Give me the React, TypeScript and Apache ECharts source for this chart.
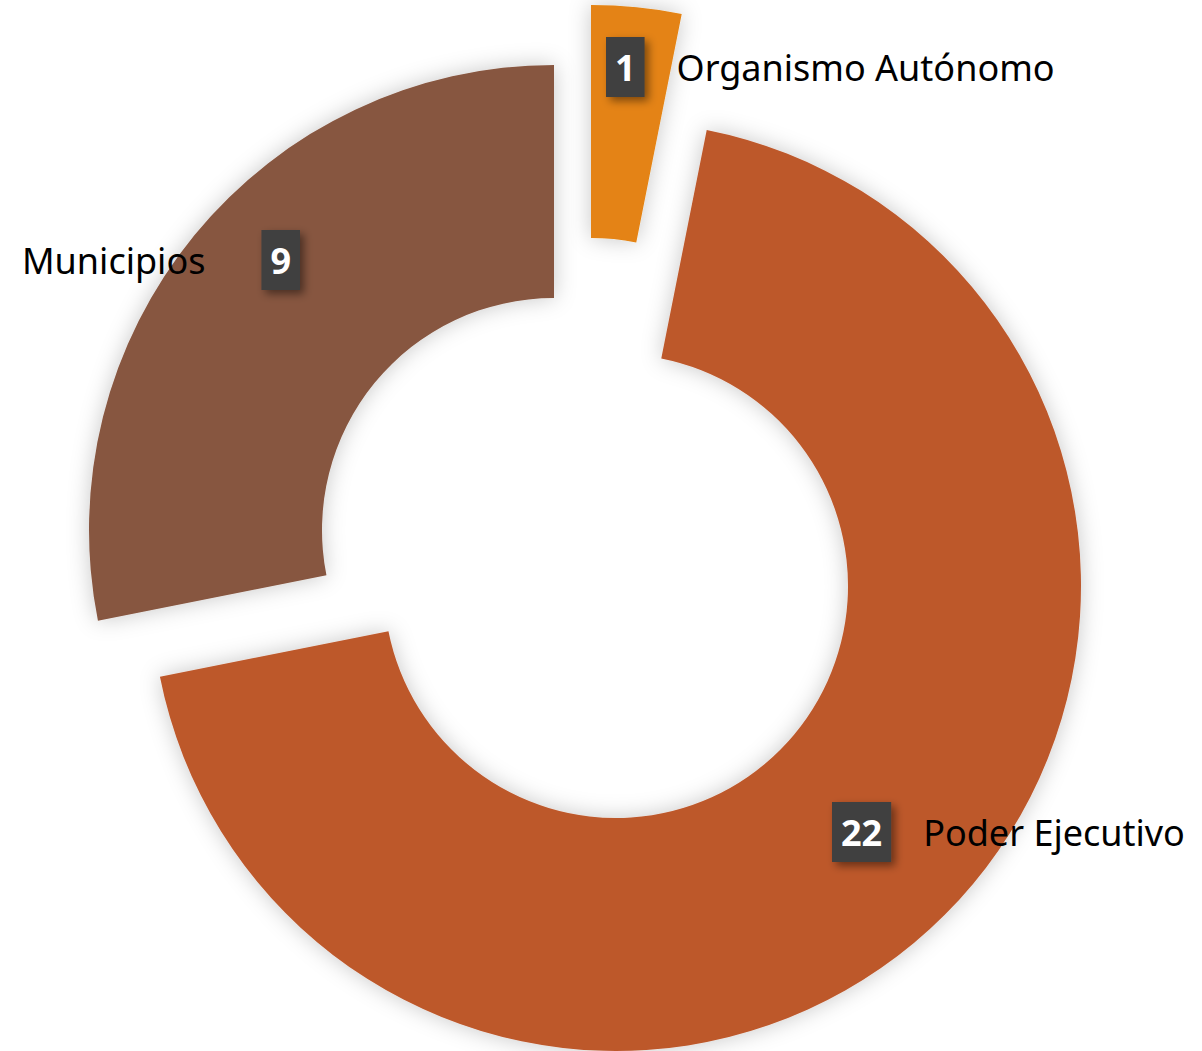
import React, { useEffect, useRef } from "react";
import * as echarts from "echarts";

const categories = ["Organismo Autónomo", "Poder Ejecutivo", "Municipios"];
const values = [1, 22, 9];
const colors = ["#E48312", "#BD582C", "#875640"];
const centers: [number, number][] = [
  [591, 470],
  [616, 586],
  [554, 530],
];
const labelSpots = [
  { x: 606, y: 67, align: "left", nameLeft: true },
  { x: 832, y: 832, align: "left", nameLeft: true },
  { x: 300, y: 260, align: "right", nameLeft: false },
];

export default function App() {
  const ref = useRef<HTMLDivElement>(null);
  useEffect(() => {
    if (!ref.current) return;
    const chart = echarts.init(ref.current, undefined, { renderer: "svg" });
    const font = "'Noto Sans', 'Open Sans', sans-serif";
    const series = categories.map((_, k) => {
      const spot = labelSpots[k];
      return {
        type: "pie",
        center: centers[k],
        radius: [232, 465],
        startAngle: 90,
        clockwise: true,
        avoidLabelOverlap: false,
        silent: true,
        emphasis: { disabled: true },
        labelLine: { show: false },
        labelLayout: { x: spot.x, y: spot.y, align: spot.align, verticalAlign: "middle", moveOverlap: false },
        data: categories.map((name, i) => ({
          name,
          value: values[i],
          itemStyle:
            i === k
              ? {
                  color: colors[i],
                  shadowBlur: 22,
                  shadowColor: "rgba(0,0,0,0.22)",
                  shadowOffsetX: 0,
                  shadowOffsetY: 0,
                }
              : { color: "rgba(0,0,0,0)", shadowBlur: 0 },
          label:
            i === k
              ? {
                  show: true,
                  position: "inside",
                  formatter: spot.nameLeft
                    ? "{box|" + values[i] + "}{name|" + name + "}"
                    : "{name|" + name + "}{box|" + values[i] + "}",
                  rich: {
                    box: {
                      fontFamily: font,
                      fontWeight: "bold",
                      fontSize: 36,
                      color: "#ffffff",
                      backgroundColor: "#404040",
                      height: 60,
                      lineHeight: 60,
                      padding: [0, 9, 0, 9],
                      shadowBlur: 8,
                      shadowOffsetX: 4,
                      shadowOffsetY: 4,
                      shadowColor: "rgba(0,0,0,0.45)",
                      align: "center",
                    },
                    name: {
                      fontFamily: font,
                      fontSize: 36,
                      color: "#000000",
                      padding: spot.nameLeft ? [0, 0, 0, 32] : [0, 56, 0, 0],
                    },
                  },
                }
              : { show: false },
        })),
      };
    });
    chart.setOption({
      animation: false,
      backgroundColor: "#ffffff",
      series,
    } as any);
    return () => chart.dispose();
  }, []);
  return (
    <div
      ref={ref}
      style={{ position: "absolute", left: 0, top: 0, width: 1202, height: 1051 }}
    />
  );
}
